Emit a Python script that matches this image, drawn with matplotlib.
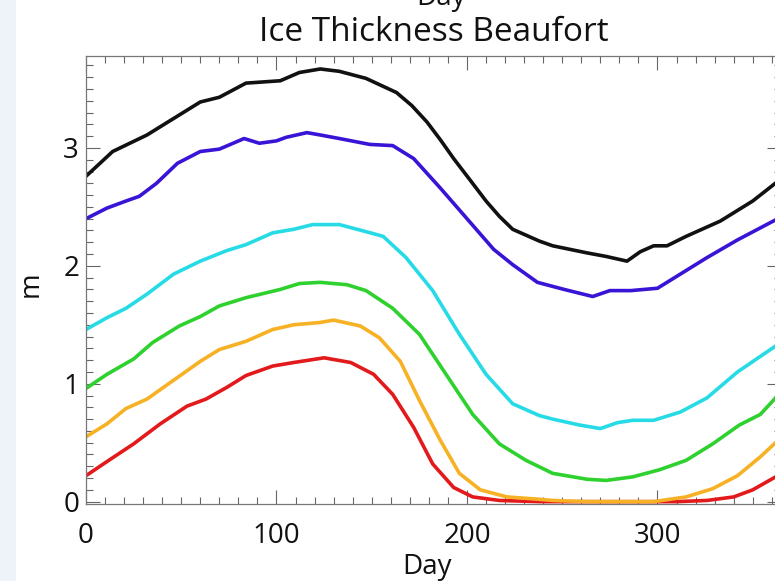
import matplotlib
matplotlib.use("Agg")
import matplotlib.pyplot as plt
from matplotlib.ticker import MultipleLocator
from matplotlib.patches import Rectangle

plt.rcParams['font.family'] = ['Open Sans', 'DejaVu Sans']

title = "Ice Thickness Beaufort"
xlabel = "Day"
ylabel = "m"
xticks = [0, 100, 200, 300]
yticks = [0, 1, 2, 3]

black_day = [0, 14, 32, 49, 60, 70, 84, 102, 112, 123, 133, 147, 163, 171, 179, 186, 193, 202, 210, 217, 224, 238, 245, 263, 273, 284, 291, 298, 305, 315, 333, 350, 365]
black_val = [2.76, 2.97, 3.11, 3.28, 3.39, 3.43, 3.55, 3.57, 3.64, 3.67, 3.65, 3.59, 3.47, 3.36, 3.22, 3.07, 2.91, 2.72, 2.55, 2.42, 2.31, 2.21, 2.17, 2.11, 2.08, 2.04, 2.12, 2.17, 2.17, 2.25, 2.38, 2.55, 2.74]

blue_day = [0, 11, 21, 28, 37, 48, 60, 70, 83, 91, 100, 105, 116, 123, 133, 149, 161, 172, 186, 200, 214, 224, 237, 251, 266, 275, 286, 300, 312, 326, 342, 362, 365]
blue_val = [2.40, 2.49, 2.55, 2.59, 2.70, 2.87, 2.97, 2.99, 3.08, 3.04, 3.06, 3.09, 3.13, 3.11, 3.08, 3.03, 3.02, 2.91, 2.66, 2.40, 2.14, 2.01, 1.86, 1.80, 1.74, 1.79, 1.79, 1.81, 1.93, 2.07, 2.22, 2.39, 2.42]

cyan_day = [0, 11, 21, 32, 46, 60, 74, 84, 98, 109, 119, 133, 147, 156, 168, 182, 196, 210, 224, 238, 245, 259, 270, 279, 287, 298, 312, 326, 342, 362, 365]
cyan_val = [1.46, 1.56, 1.64, 1.76, 1.93, 2.04, 2.13, 2.18, 2.28, 2.31, 2.35, 2.35, 2.29, 2.25, 2.07, 1.79, 1.42, 1.08, 0.83, 0.73, 0.70, 0.65, 0.62, 0.67, 0.69, 0.69, 0.76, 0.88, 1.10, 1.32, 1.36]

green_day = [0, 11, 25, 35, 49, 60, 70, 84, 102, 112, 123, 137, 147, 161, 175, 189, 203, 217, 231, 245, 263, 273, 287, 301, 315, 329, 343, 354, 362, 365]
green_val = [0.96, 1.08, 1.21, 1.35, 1.49, 1.57, 1.66, 1.73, 1.80, 1.85, 1.86, 1.84, 1.79, 1.64, 1.42, 1.08, 0.74, 0.49, 0.35, 0.24, 0.19, 0.18, 0.21, 0.27, 0.35, 0.49, 0.65, 0.74, 0.88, 0.93]

orange_day = [0, 11, 21, 32, 46, 60, 70, 84, 98, 109, 123, 130, 144, 154, 165, 175, 186, 196, 207, 221, 238, 245, 263, 298, 315, 329, 342, 354, 362, 365]
orange_val = [0.55, 0.66, 0.79, 0.87, 1.03, 1.19, 1.29, 1.36, 1.46, 1.50, 1.52, 1.54, 1.49, 1.39, 1.19, 0.86, 0.52, 0.24, 0.10, 0.04, 0.02, 0.01, 0.00, 0.00, 0.04, 0.11, 0.22, 0.38, 0.50, 0.55]

red_day = [0, 11, 25, 39, 53, 63, 74, 84, 98, 109, 125, 139, 151, 161, 172, 182, 193, 203, 217, 238, 310, 326, 340, 350, 362, 365]
red_val = [0.22, 0.34, 0.49, 0.66, 0.81, 0.87, 0.97, 1.07, 1.15, 1.18, 1.22, 1.18, 1.08, 0.91, 0.63, 0.32, 0.12, 0.04, 0.01, 0.00, 0.00, 0.01, 0.04, 0.10, 0.21, 0.25]

series = [
    (red_day, red_val, "#e31a1c"),
    (orange_day, orange_val, "#f7b125"),
    (green_day, green_val, "#2fd12f"),
    (cyan_day, cyan_val, "#27dbe6"),
    (blue_day, blue_val, "#3a14d6"),
    (black_day, black_val, "#111111"),
]

fig = plt.figure(figsize=(7.75, 5.81), dpi=100)
fig.patches.append(Rectangle((0, 0), 16 / 775, 1, transform=fig.transFigure,
                             facecolor="#eef3f9", edgecolor="none", zorder=0))

ax = fig.add_axes([86 / 775, 1 - 504 / 581, (781.3 - 86) / 775, (504 - 56) / 581])
for d, v, c in series:
    ax.plot(d, v, color=c, lw=2.6, solid_capstyle='round', solid_joinstyle='round')

ax.set_xlim(0, 365)
ax.set_ylim(-0.02, 3.78)
ax.set_xticks(xticks)
ax.set_yticks(yticks)
ax.xaxis.set_minor_locator(MultipleLocator(10))
ax.yaxis.set_minor_locator(MultipleLocator(0.1))
ax.tick_params(which='both', direction='in', top=True, right=True, color='#666666', width=0.8)
ax.tick_params(which='major', length=10, labelsize=20, labelcolor='#111111')
ax.tick_params(which='minor', length=5)
ax.tick_params(axis='x', which='major', pad=13)
ax.tick_params(axis='y', which='major', pad=5)
for s in ax.spines.values():
    s.set_color('#777777')
    s.set_linewidth(0.9)

ax.set_title(title, fontsize=24, pad=11, color='#111111')
ax.set_xlabel(xlabel, fontsize=20, color='#111111')
ax.xaxis.set_label_coords(0.49, -0.11)
ax.set_ylabel(ylabel, fontsize=20, color='#111111')
ax.yaxis.set_label_coords(-0.06, 0.49)
fig.text(441 / 775, 1 - 5 / 581, "Day", fontsize=20, ha='center', va='baseline', color='#111111')

fig.savefig("out.png", dpi=100)
